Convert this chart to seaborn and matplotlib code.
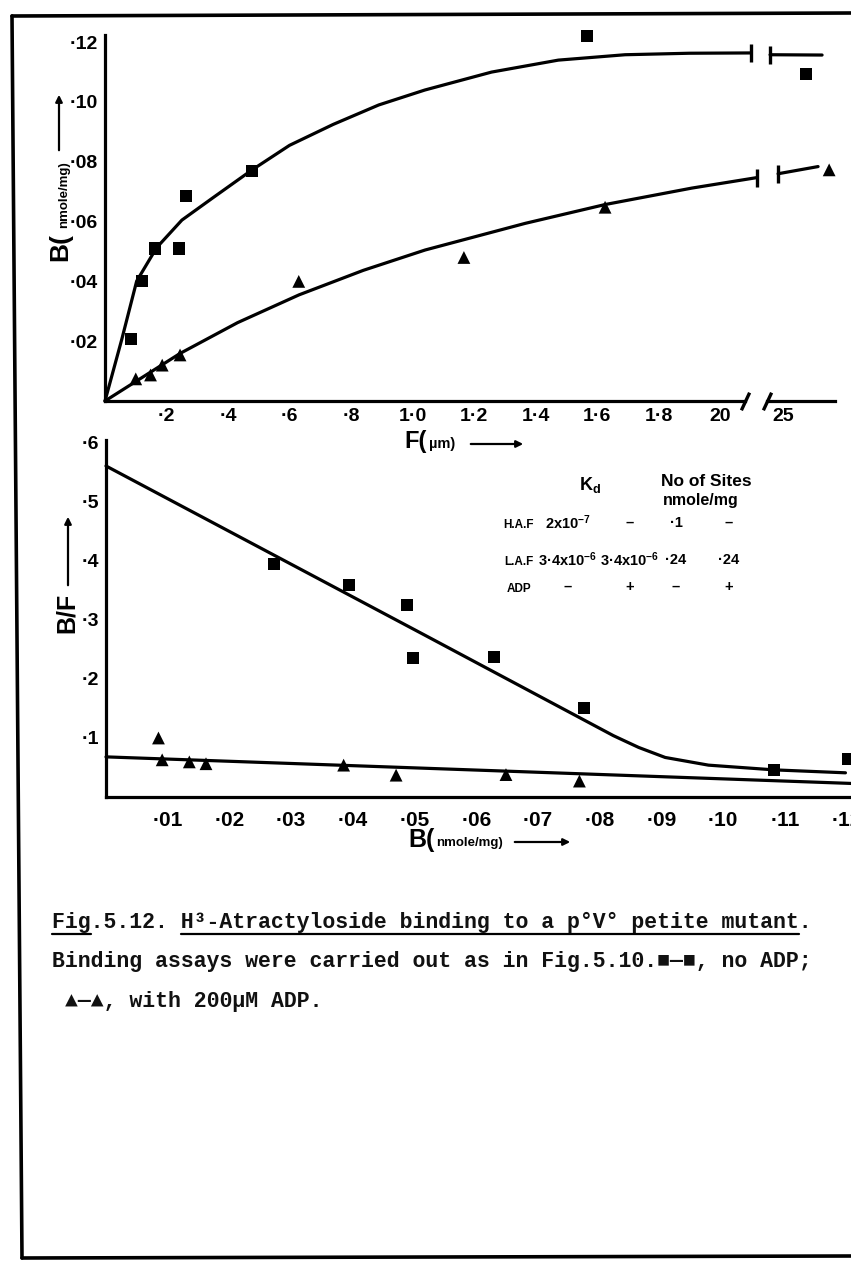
import numpy as np
import pandas as pd
import matplotlib
matplotlib.use("Agg")
import matplotlib.pyplot as plt
from matplotlib.lines import Line2D
from matplotlib.patches import FancyArrowPatch
import seaborn as sns

W, H = 851, 1263

# ---- top panel: bound B (nmole/mg) vs free F (uM) ----
f_sq = [0.085, 0.12, 0.163, 0.24, 0.263, 0.478, 1.567, 2.575]
b_sq = [0.0207, 0.040, 0.051, 0.051, 0.0686, 0.077, 0.122, 0.1094]
f_tri = [0.10, 0.148, 0.186, 0.244, 0.63, 1.167, 1.626, 2.65]
b_tri = [0.0074, 0.0087, 0.012, 0.0154, 0.040, 0.048, 0.0648, 0.0773]

# hand drawn curves, left of the axis break and right of it
curve_sq_f = [0, 0.054, 0.103, 0.168, 0.25, 0.35, 0.477, 0.60, 0.742, 0.89, 1.04, 1.257, 1.474, 1.691, 1.90, 2.10]
curve_sq_b = [0, 0.0204, 0.0401, 0.0513, 0.0605, 0.0679, 0.0772, 0.0855, 0.0925, 0.0990, 0.1040, 0.1100, 0.1140, 0.1158, 0.1163, 0.1164]
curve_sq_f2 = [2.458, 2.627]
curve_sq_b2 = [0.1158, 0.1157]
curve_tri_f = [0, 0.244, 0.431, 0.631, 0.84, 1.041, 1.366, 1.626, 1.908, 2.119]
curve_tri_b = [0, 0.0159, 0.0262, 0.0355, 0.0437, 0.0505, 0.0594, 0.0657, 0.0712, 0.0747]
curve_tri_f2 = [2.484, 2.614]
curve_tri_b2 = [0.076, 0.0784]

top_xticks = [0.2, 0.4, 0.6, 0.8, 1.0, 1.2, 1.4, 1.6, 1.8, 2.0]
top_xlabels = ["·2", "·4", "·6", "·8", "1·0", "1·2", "1·4", "1·6", "1·8", "20"]
top_xticks2 = [2.5]
top_xlabels2 = ["25"]
top_yticks = [0.02, 0.04, 0.06, 0.08, 0.10, 0.12]
top_ylabels = ["·02", "·04", "·06", "·08", "·10", "·12"]

# ---- bottom panel: Scatchard plot B/F vs B ----
sc_sq_b = [0.0272, 0.0394, 0.0488, 0.0497, 0.0629, 0.0775, 0.1082, 0.1202]
sc_sq_bf = [0.395, 0.360, 0.326, 0.235, 0.237, 0.151, 0.046, 0.064]
sc_tri_b = [0.0085, 0.0091, 0.0135, 0.0162, 0.0385, 0.047, 0.0648, 0.0767]
sc_tri_bf = [0.100, 0.063, 0.0595, 0.0564, 0.054, 0.037, 0.038, 0.027]

sc_line_sq_b = [0, 0.0517, 0.0822, 0.0841, 0.0863, 0.0906, 0.0976, 0.1082, 0.1198]
sc_line_sq_bf = [0.561, 0.274, 0.104, 0.0947, 0.084, 0.067, 0.054, 0.046, 0.041]
sc_line_tri_b = [0, 0.1207]
sc_line_tri_bf = [0.068, 0.023]

bot_xticks = [0.01, 0.02, 0.03, 0.04, 0.05, 0.06, 0.07, 0.08, 0.09, 0.10, 0.11, 0.12]
bot_xlabels = ["·01", "·02", "·03", "·04", "·05", "·06", "·07", "·08", "·09", "·10", "·11", "·12"]
bot_yticks = [0.1, 0.2, 0.3, 0.4, 0.5, 0.6]
bot_ylabels = ["·1", "·2", "·3", "·4", "·5", "·6"]

# inset table
tbl_head = [r"$\mathregular{K_d}$", "No of Sites", "nmole/mg"]
tbl_rows = ["H.A.F", "L.A.F", "ADP"]
tbl_cells = [[r"2x10$^{-7}$", "–", "·1", "–"],
             [r"3·4x10$^{-6}$", r"3·4x10$^{-6}$", "·24", "·24"],
             ["–", "+", "–", "+"]]

caption = ["Fig.5.12. H³-Atractyloside binding to a p°V° petite mutant.",
           "Binding assays were carried out as in Fig.5.10.■—■, no ADP;",
           "▲—▲, with 200µM ADP."]

sns.set_theme(style="white")
plt.rcParams["font.family"] = ["Liberation Sans", "DejaVu Sans"]
plt.rcParams["font.weight"] = "bold"
plt.rcParams["mathtext.default"] = "regular"
for k in ["text.color", "axes.labelcolor", "xtick.color", "ytick.color", "axes.edgecolor"]:
    plt.rcParams[k] = "black"


def fx(px):
    return px / W


def fy(py):
    return 1 - py / H


fig = plt.figure(figsize=(W / 100, H / 100), dpi=100)
fig.patch.set_facecolor("white")

LW = 2.3
ax1 = fig.add_axes([fx(105), fy(401), (757 - 105) / W, (401 - 35) / H])
ax2 = fig.add_axes([fx(767), fy(401), (835 - 767) / W, (401 - 35) / H])
ax3 = fig.add_axes([fx(106), fy(797), (W - 106) / W, (797 - 440) / H])
for ax in (ax1, ax2, ax3):
    ax.set_facecolor("none")
    for s in ax.spines.values():
        s.set_linewidth(LW)
        s.set_color("black")
    ax.spines["top"].set_visible(False)
    ax.spines["right"].set_visible(False)
    ax.tick_params(direction="out", length=3, width=1.5, colors="black", labelsize=14, pad=2)
ax2.spines["left"].set_visible(False)
ax2.tick_params(axis="y", left=False, labelleft=False)

ax1.set_xlim(0, 2.12)
ax1.set_ylim(0, 0.1224)
ax2.set_xlim(2.448, 2.669)
ax2.set_ylim(0, 0.1224)
ax1.spines["bottom"].set_bounds(0, 2.08)
ax3.set_xlim(0, 0.1207)
ax3.set_ylim(0, 0.605)

mk = dict(color="black", edgecolor="none", clip_on=False, legend=False)
top_sq = pd.DataFrame({"F": f_sq, "B": b_sq})
top_tri = pd.DataFrame({"F": f_tri, "B": b_tri})
for ax, sel in ((ax1, lambda d: d["F"] < 2.2), (ax2, lambda d: d["F"] >= 2.2)):
    sns.scatterplot(data=top_sq[sel(top_sq)], x="F", y="B", marker="s", s=75, ax=ax, **mk)
    sns.scatterplot(data=top_tri[sel(top_tri)], x="F", y="B", marker="^", s=85, ax=ax, **mk)

ln = dict(color="black", lw=LW, sort=False, estimator=None, clip_on=False)
sns.lineplot(x=curve_sq_f, y=curve_sq_b, ax=ax1, **ln)
sns.lineplot(x=curve_tri_f, y=curve_tri_b, ax=ax1, **ln)
sns.lineplot(x=curve_sq_f2, y=curve_sq_b2, ax=ax2, **ln)
sns.lineplot(x=curve_tri_f2, y=curve_tri_b2, ax=ax2, **ln)
# break bars at the curve ends
bar = dict(ls="none", marker="|", ms=13, mew=2.4, color="black", clip_on=False)
ax1.plot([curve_sq_f[-1], curve_tri_f[-1]], [curve_sq_b[-1], curve_tri_b[-1]], **bar)
ax2.plot([curve_sq_f2[0], curve_tri_f2[0]], [curve_sq_b2[0], curve_tri_b2[0]], **bar)
# axis break marks
ax1.plot([2.08], [0], ls="none", marker=(2, 0, -25), ms=14, mew=2.4, color="black", clip_on=False)
ax2.plot([2.448], [0], ls="none", marker=(2, 0, -25), ms=14, mew=2.4, color="black", clip_on=False)

ax1.set_xticks(top_xticks, top_xlabels)
ax1.set_yticks(top_yticks, top_ylabels)
ax2.set_xticks(top_xticks2, top_xlabels2)
ax1.set(xlabel="", ylabel="")
ax2.set(xlabel="", ylabel="")

sc_sq = pd.DataFrame({"B": sc_sq_b, "BF": sc_sq_bf})
sc_tri = pd.DataFrame({"B": sc_tri_b, "BF": sc_tri_bf})
sns.scatterplot(data=sc_sq, x="B", y="BF", marker="s", s=75, ax=ax3, **mk)
sns.scatterplot(data=sc_tri, x="B", y="BF", marker="^", s=85, ax=ax3, **mk)
sns.lineplot(x=sc_line_sq_b, y=sc_line_sq_bf, ax=ax3, **ln)
sns.lineplot(x=sc_line_tri_b, y=sc_line_tri_bf, ax=ax3, **ln)
ax3.set_xticks(bot_xticks, bot_xlabels)
ax3.set_yticks(bot_yticks, bot_ylabels)
ax3.tick_params(axis="x", labelsize=15, pad=7)
ax3.set(xlabel="", ylabel="")

# axis labels with arrows
arrow = dict(arrowstyle="-|>", color="black", lw=1.6, mutation_scale=10)
fig.text(fx(60), fy(247), "B(", rotation=90, ha="center", va="center", fontsize=19)
fig.text(fx(64), fy(195), "nmole/mg)", rotation=90, ha="center", va="center", fontsize=9.5)
fig.add_artist(FancyArrowPatch((fx(59), fy(153)), (fx(59), fy(92)), transform=fig.transFigure, **arrow))
fig.text(fx(404), fy(441), "F(", ha="left", va="center", fontsize=17)
fig.text(fx(429), fy(444), "µm)", ha="left", va="center", fontsize=10.5)
fig.add_artist(FancyArrowPatch((fx(468), fy(444)), (fx(526), fy(444)), transform=fig.transFigure, **arrow))
fig.text(fx(67), fy(613), "B/F", rotation=90, ha="center", va="center", fontsize=18)
fig.add_artist(FancyArrowPatch((fx(68), fy(588)), (fx(68), fy(514)), transform=fig.transFigure, **arrow))
fig.text(fx(408), fy(840), "B(", ha="left", va="center", fontsize=18)
fig.text(fx(436), fy(843), "nmole/mg)", ha="left", va="center", fontsize=9.5)
fig.add_artist(FancyArrowPatch((fx(512), fy(842)), (fx(573), fy(842)), transform=fig.transFigure, **arrow))

# inset table
fig.text(fx(590), fy(485), tbl_head[0], ha="center", va="center", fontsize=13)
fig.text(fx(706), fy(481), tbl_head[1], ha="center", va="center", fontsize=12.5)
fig.text(fx(701), fy(500), tbl_head[2], ha="center", va="center", fontsize=11.5)
row_y = [523, 560, 587]
col_x = [568, 630, 676, 729]
for r, yy in enumerate(row_y):
    fig.text(fx(519), fy(yy + 2), tbl_rows[r], ha="center", va="center", fontsize=8.5)
    for c, xx in enumerate(col_x):
        fig.text(fx(xx), fy(yy), tbl_cells[r][c], ha="center", va="center", fontsize=10.5)

# caption in typewriter face
cap_font = dict(family=["Liberation Mono", "DejaVu Sans Mono"], fontweight="bold", fontsize=15.5,
                va="center", ha="left", color="#111111")
cap_pos = [(52, 922), (52, 962), (65, 1002)]
cap_txt = [fig.text(fx(px), fy(py), s, **cap_font) for s, (px, py) in zip(caption, cap_pos)]

# underlines of the title line
fig.canvas.draw()
bb = cap_txt[0].get_window_extent()
cw = bb.width / len(caption[0])
for i0, i1 in [(0, 3), (10, len(caption[0]) - 1)]:
    x0 = bb.x0 + i0 * cw
    x1 = bb.x0 + i1 * cw
    fig.add_artist(Line2D([x0 / W, x1 / W], [fy(934), fy(934)], lw=1.6, color="black"))

# page frame
frame = dict(lw=2.6, color="black")
fig.add_artist(Line2D([fx(12), fx(851)], [fy(16), fy(13)], **frame))
fig.add_artist(Line2D([fx(12), fx(22)], [fy(16), fy(1258)], **frame))
fig.add_artist(Line2D([fx(22), fx(851)], [fy(1258), fy(1256)], **frame))

fig.savefig("out.png", dpi=100, facecolor="white")
